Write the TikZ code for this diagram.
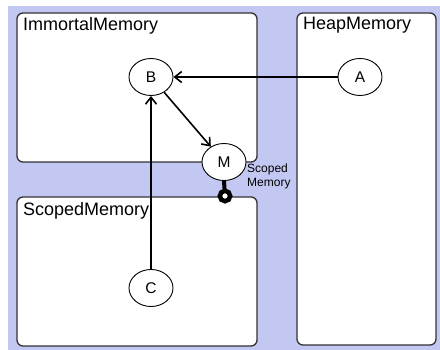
\documentclass[tikz,border=0pt]{standalone}
\usepackage{fontspec}
\setmainfont{Liberation Sans}
\usetikzlibrary{arrows.meta,shapes.geometric}
\definecolor{bgblue}{RGB}{194,200,242}
\definecolor{boxline}{RGB}{50,50,56}
\begin{document}
\begin{tikzpicture}[x=1pt,y=-1pt,
  region/.style={draw=boxline, line width=1.3pt, fill=white, rounded corners=6pt},
  title/.style={anchor=base west, inner sep=0pt, font=\fontsize{18}{21}\selectfont},
  obj/.style={draw, ellipse, minimum width=44pt, minimum height=37pt, inner sep=0pt, line width=0.9pt, font=\fontsize{15.5}{18}\selectfont, fill=white},
  ref/.style={line width=1.6pt, -{Straight Barb[length=7pt,width=11pt,line width=1.6pt]}},
  ball/.style={line width=4.5pt, draw=black, fill=white},
  stem/.style={line width=4pt},
  note/.style={anchor=west, align=left, inner sep=0pt, font=\fontsize{12}{14}\selectfont}
  ]
\useasboundingbox (0,0) rectangle (440,350);
\fill[bgblue] (7.5,6) rectangle (440,350);
\draw[region] (17,13) rectangle (257,162);
\draw[region] (297,13) rectangle (436,345);
\draw[region] (17,197) rectangle (257,346);
\node[title] (timm) at (23,31) {ImmortalMemory};
\node[title] (theap) at (303,30) {HeapMemory};
\node[title] (tscp) at (23,216) {ScopedMemory};
\node[obj] (B) at (151,77) {B};
\node[obj] (A) at (360,77) {A};
\node[obj] (M) at (224,162) {M};
\node[obj] (C) at (151,288) {C};
\coordinate (ring) at (225,196);
\node[note] (lbl) at (247,176) {Scoped\\Memory};
\draw[ref] (A) -- (B);
\draw[ref] (B) -- (M);
\draw[ref] (C) -- (B);
\draw[stem] (M.south) -- (ring);
\draw[ball] (ring) circle (5.2pt);
\end{tikzpicture}
\end{document}
